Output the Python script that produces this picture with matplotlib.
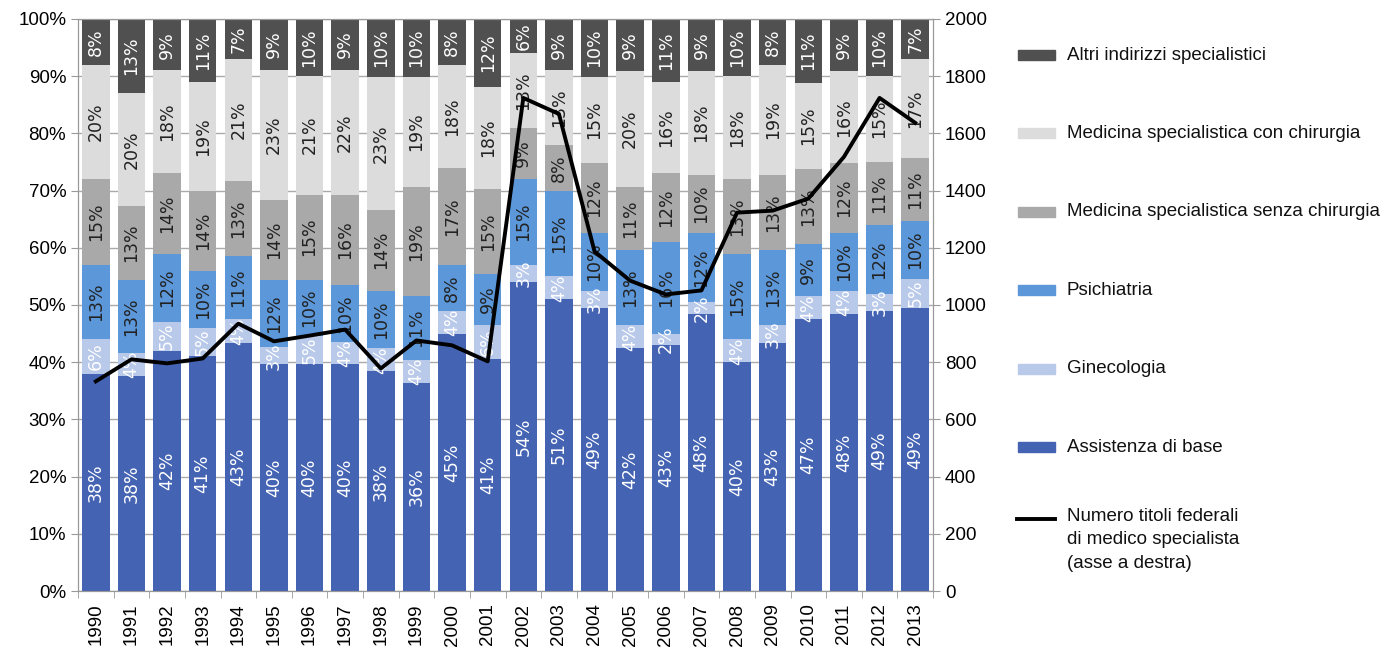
import numpy as np
import matplotlib.pyplot as plt
from matplotlib.patches import Rectangle
from matplotlib.lines import Line2D

plt.rcParams['font.family'] = ['Liberation Sans', 'DejaVu Sans']

anni = [str(a) for a in range(1990, 2014)]
# quote in % (dal basso verso l'alto)
base =    [38, 38, 42, 41, 43, 40, 40, 40, 38, 36, 45, 41, 54, 51, 49, 42, 43, 48, 40, 43, 47, 48, 49, 49]
gineco =  [6, 4, 5, 5, 4, 3, 5, 4, 4, 4, 4, 6, 3, 4, 3, 4, 2, 2, 4, 3, 4, 4, 3, 5]
psich =   [13, 13, 12, 10, 11, 12, 10, 10, 10, 11, 8, 9, 15, 15, 10, 13, 16, 12, 15, 13, 9, 10, 12, 10]
senza =   [15, 13, 14, 14, 13, 14, 15, 16, 14, 19, 17, 15, 9, 8, 12, 11, 12, 10, 13, 13, 13, 12, 11, 11]
con =     [20, 20, 18, 19, 21, 23, 21, 22, 23, 19, 18, 18, 13, 13, 15, 20, 16, 18, 18, 19, 15, 16, 15, 17]
altri =   [8, 13, 9, 11, 7, 9, 10, 9, 10, 10, 8, 12, 6, 9, 10, 9, 11, 9, 10, 8, 11, 9, 10, 7]
titoli = [733, 810, 796, 813, 935, 873, 893, 914, 778, 876, 859, 803, 1724, 1668,
          1187, 1085, 1037, 1051, 1323, 1330, 1372, 1518, 1724, 1637]

serie = [base, gineco, psich, senza, con, altri]
nomi = ["Assistenza di base", "Ginecologia", "Psichiatria",
        "Medicina specialistica senza chirurgia",
        "Medicina specialistica con chirurgia", "Altri indirizzi specialistici"]
colori = ['#4463b3', '#b9c9ea', '#5b97d9', '#a9a9a9', '#dcdcdc', '#505050']
col_testo = ['white', 'white', '#222222', '#222222', '#222222', 'white']

W, H = 1388, 651
fig = plt.figure(figsize=(W / 100, H / 100), dpi=100)
ax = fig.add_axes([78 / W, 1 - 591 / H, 855 / W, 572 / H])

x = np.arange(len(anni))
dati = np.array(serie, dtype=float)
quote = dati / dati.sum(axis=0) * 100
fondo = np.zeros(len(anni))
for i in range(len(serie)):
    ax.bar(x, quote[i], 0.77, bottom=fondo, color=colori[i], zorder=2)
    for j in range(len(anni)):
        ax.text(x[j], fondo[j] + quote[i][j] / 2, f"{serie[i][j]}%", rotation=90,
                ha='center', va='center', color=col_testo[i], fontsize=12.5,
                family='DejaVu Sans', zorder=3)
    fondo += quote[i]

ax.set_xlim(-0.5, len(anni) - 0.5)
ax.set_ylim(0, 100)
ax.set_yticks(range(0, 101, 10))
ax.set_yticklabels([f"{v}%" for v in range(0, 101, 10)], fontsize=13.5)
ax.set_xticks(x)
ax.set_xticklabels(anni, rotation=90, fontsize=13.5)
ax.set_xticks(np.arange(-0.5, len(anni)), minor=True)
ax.tick_params(axis='x', which='major', length=0, pad=9)
ax.tick_params(axis='x', which='minor', length=5, color='#999999')
ax.tick_params(axis='y', length=5, color='#999999')
ax.yaxis.grid(True, color='#aaaaaa', lw=1, zorder=0)
ax.set_axisbelow(True)
for s in ax.spines.values():
    s.set_color('#999999')

ax2 = ax.twinx()
ax2.plot(x, titoli, color='black', lw=2.8, zorder=5)
ax2.set_ylim(0, 2000)
ax2.set_yticks(range(0, 2001, 200))
ax2.tick_params(axis='y', length=5, color='#999999', labelsize=13.5)
for s in ax2.spines.values():
    s.set_color('#999999')

# legenda costruita a mano
for k, i in enumerate(range(5, -1, -1)):
    yc = 55 + 78.4 * k
    fig.patches.append(Rectangle((1018 / W, 1 - (yc + 5) / H), 37 / W, 10 / H,
                                 color=colori[i], transform=fig.transFigure))
    fig.text(1067 / W, 1 - yc / H, nomi[i], fontsize=13.5, va='center', ha='left',
             color='#111111')
fig.lines.append(Line2D([1017 / W, 1055 / W], [1 - 519 / H, 1 - 519 / H], color='black',
                        lw=2.8, transform=fig.transFigure))
fig.text(1067 / W, 1 - 508 / H, "Numero titoli federali\ndi medico specialista\n(asse a destra)",
         fontsize=13.5, va='top', ha='left', linespacing=1.5, color='#111111')

fig.savefig("out.png", dpi=100)
